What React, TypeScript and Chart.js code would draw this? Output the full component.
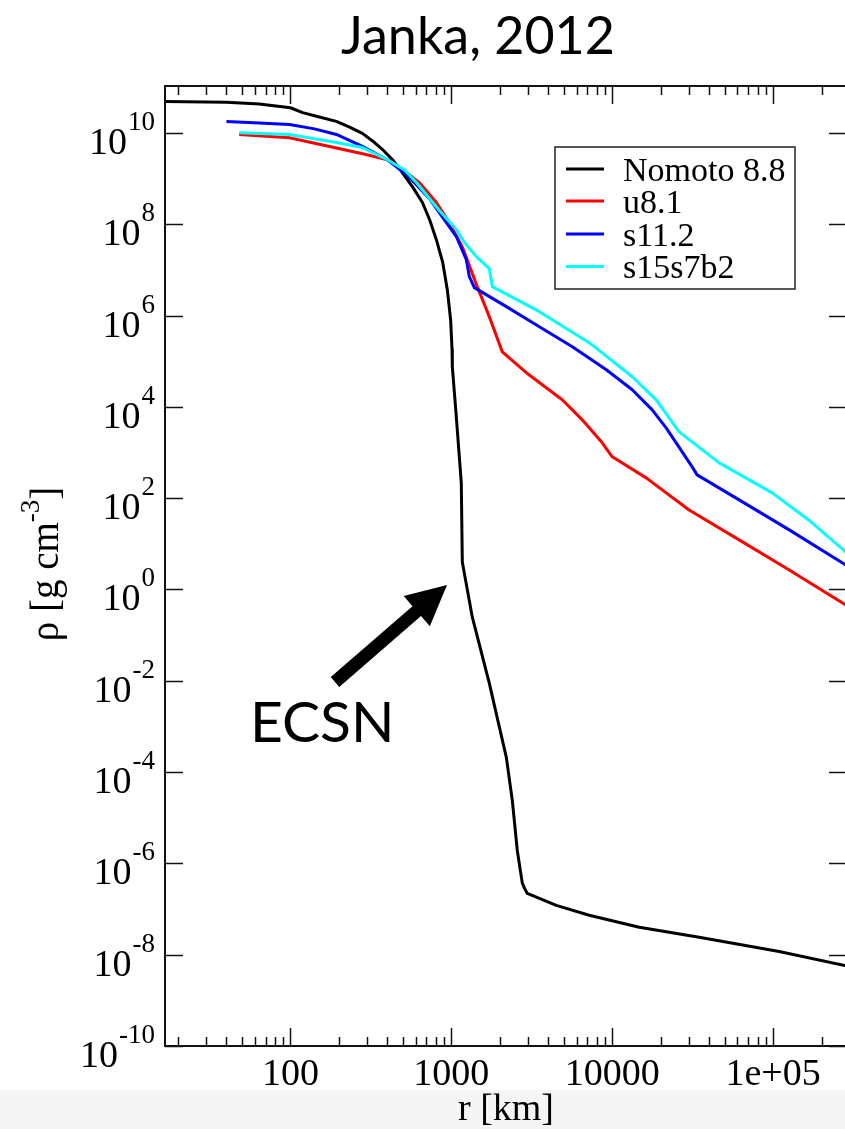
import React, { useEffect, useRef } from "react";
import { Chart, registerables } from "chart.js";

Chart.register(...registerables);

// ---- data (r in km, rho in g/cm^3) ----
const nomotoR = [16.5, 40, 64, 100, 119, 151, 193, 233, 280, 324, 372, 431, 496, 574, 661, 733, 807, 883, 944, 990, 1010, 1014, 1074, 1153, 1170, 1349, 1721, 2197, 2393, 2571, 2761, 2857, 2966, 4490, 7193, 14720, 34700, 109000, 297000];
const nomotoRho = [4.9e10, 4.7e10, 4.3e10, 3.57e10, 2.8e10, 2.24e10, 1.8e10, 1.35e10, 9.8e9, 6.7e9, 4.4e9, 2.6e9, 1.36e9, 6.6e8, 3.0e8, 1.26e8, 4.6e7, 1.49e7, 3.7e6, 8.0e5, 1.8e5, 7.6e4, 6.0e3, 217, 4.0, 0.25, 8.9e-3, 2.1e-4, 2.4e-5, 1.9e-6, 3.7e-7, 2.8e-7, 2.2e-7, 1.2e-7, 7.3e-8, 4.0e-8, 2.4e-8, 1.18e-8, 5.5e-9];

const u81R = [48, 98.6, 193, 281, 400, 512, 632, 807, 972, 1170, 1449, 1721, 2074, 2924, 4890, 6510, 8670, 10000, 16260, 30060, 61500, 126000, 297000];
const u81Rho = [9.3e9, 7.85e9, 4.7e9, 3.5e9, 2.6e9, 1.48e9, 8.2e8, 3.0e8, 1.09e8, 3.2e7, 4.3e6, 9.5e5, 1.6e5, 5.6e4, 1.43e4, 5.2e3, 1.63e3, 805, 279, 55, 12.2, 2.68, 0.41];

const s112R = [40, 64, 98.6, 141, 193, 280, 400, 512, 606, 733, 842, 975, 1074, 1239, 1294, 1390, 2197, 3524, 5650, 9190, 13320, 17720, 21640, 31400, 33700, 61500, 126000, 297000];
const s112Rho = [1.79e10, 1.66e10, 1.54e10, 1.23e10, 9.3e9, 5.1e9, 2.6e9, 1.33e9, 7.4e8, 3.6e8, 1.8e8, 8.7e7, 5.4e7, 1.68e7, 7.1e6, 4.1e6, 1.57e6, 5.7e5, 2.08e5, 6.5e4, 2.37e4, 8.6e3, 3.48e3, 486, 324, 92, 20.2, 3.1];

const s15R = [48, 98.6, 193, 280, 400, 512, 606, 842, 1074, 1205, 1430, 1721, 1798, 3524, 7193, 13320, 18750, 26060, 46200, 98700, 167000, 297000];
const s15Rho = [1.01e10, 9.3e9, 6.2e9, 4.8e9, 2.6e9, 1.55e9, 8.2e8, 2.0e8, 7.7e7, 4.0e7, 1.96e7, 1.07e7, 4.3e6, 1.22e6, 2.55e5, 4.57e4, 1.43e4, 2.84e3, 594, 131, 33, 5.7];

const seriesLabels = ["Nomoto 8.8", "u8.1", "s11.2", "s15s7b2"];
const seriesColors = ["#000000", "#ff0000", "#0000ff", "#00ffff"];

const xTickValues = [100, 1000, 10000, 100000];
const xTickLabels = ["100", "1000", "10000", "1e+05"];
const yTickExponents = [-10, -8, -6, -4, -2, 0, 2, 4, 6, 8, 10];

const X_MIN = 16.6;
const X_MAX = 2.88e5;
const Y_MIN = 1e-10;
const Y_MAX = 1.07e11;

const titleText = "Janka, 2012";
const annotationText = "ECSN";
const xTitle = "r [km]";

const SERIF = "'Liberation Serif', 'Times New Roman', serif";
const SANS = "Lato, 'Open Sans', sans-serif";

const toPoints = (r: number[], v: number[]) => r.map((x, i) => ({ x, y: v[i] }));

const decorPlugin = {
  id: "decor",
  afterDraw(chart: any) {
    const ctx: CanvasRenderingContext2D = chart.ctx;
    const { left, right, top, bottom } = chart.chartArea;
    const xs = chart.scales.x;
    const ys = chart.scales.y;
    ctx.save();

    // frame
    ctx.strokeStyle = "#111";
    ctx.lineWidth = 2;
    ctx.strokeRect(left, top, right - left, bottom - top);

    const seg = (x1: number, y1: number, x2: number, y2: number) => {
      ctx.beginPath();
      ctx.moveTo(x1, y1);
      ctx.lineTo(x2, y2);
      ctx.stroke();
    };

    // x ticks (inward, top and bottom)
    ctx.lineWidth = 1.5;
    for (let e = 1; e <= 5; e++) {
      for (let m = 1; m <= 9; m++) {
        const v = m * Math.pow(10, e);
        if (v < xs.min || v > xs.max) continue;
        const px = Math.round(xs.getPixelForValue(v)) + 0.5;
        const len = m === 1 ? 18 : 9;
        seg(px, bottom, px, bottom - len);
        seg(px, top, px, top + len);
      }
    }
    // y ticks (inward, left and right)
    for (const e of yTickExponents) {
      const py = Math.round(ys.getPixelForValue(Math.pow(10, e))) + 0.5;
      seg(left, py, left + 18, py);
      seg(right, py, right - 18, py);
    }

    // y tick labels 10^n
    ctx.fillStyle = "#000";
    ctx.textAlign = "right";
    ctx.textBaseline = "alphabetic";
    for (const e of yTickExponents) {
      const py = ys.getPixelForValue(Math.pow(10, e));
      const exp = String(e);
      ctx.font = `27px ${SERIF}`;
      const ew = ctx.measureText(exp).width;
      ctx.fillText(exp, 155, py - 3);
      ctx.font = `38px ${SERIF}`;
      ctx.fillText("10", 155 - ew - 1, py + 21);
    }

    // y axis title (rotated)
    ctx.save();
    ctx.translate(58, 564);
    ctx.rotate(-Math.PI / 2);
    ctx.textAlign = "left";
    const partA = "\u03c1 [g cm";
    const partB = "-3";
    const partC = "]";
    ctx.font = `39px ${SERIF}`;
    const wA = ctx.measureText(partA).width;
    const wC = ctx.measureText(partC).width;
    ctx.font = `27px ${SERIF}`;
    const wB = ctx.measureText(partB).width;
    const W = wA + wB + wC;
    let cx = -W / 2;
    ctx.font = `39px ${SERIF}`;
    ctx.fillText(partA, cx, 0);
    cx += wA;
    ctx.font = `27px ${SERIF}`;
    ctx.fillText(partB, cx, -19);
    cx += wB;
    ctx.font = `39px ${SERIF}`;
    ctx.fillText(partC, cx, 0);
    ctx.restore();

    // legend
    const lx0 = 555, ly0 = 147, lx1 = 795, ly1 = 289;
    ctx.fillStyle = "#fff";
    ctx.fillRect(lx0, ly0, lx1 - lx0, ly1 - ly0);
    ctx.strokeStyle = "#222";
    ctx.lineWidth = 1.5;
    ctx.strokeRect(lx0, ly0, lx1 - lx0, ly1 - ly0);
    const rowsY = [169, 201, 234, 266.5];
    chart.data.datasets.forEach((ds: any, i: number) => {
      const yy = rowsY[i];
      ctx.strokeStyle = ds.borderColor;
      ctx.lineWidth = 3;
      seg(566, yy, 604, yy);
      ctx.fillStyle = "#000";
      ctx.font = `34px ${SERIF}`;
      ctx.textAlign = "left";
      ctx.fillText(ds.label, 623, yy + 11.5);
    });

    // arrow
    const tail = { x: 335, y: 682 };
    const tip = { x: 447, y: 585 };
    const dx = tip.x - tail.x, dy = tip.y - tail.y;
    const L = Math.hypot(dx, dy);
    const ux = dx / L, uy = dy / L;
    const nx = -uy, ny = ux;
    const headLen = 40, headHalf = 20, shaftHalf = 6.5;
    const bx = tip.x - ux * headLen, by = tip.y - uy * headLen;
    ctx.fillStyle = "#000";
    ctx.beginPath();
    ctx.moveTo(tail.x + nx * shaftHalf, tail.y + ny * shaftHalf);
    ctx.lineTo(bx + nx * shaftHalf, by + ny * shaftHalf);
    ctx.lineTo(bx + nx * headHalf, by + ny * headHalf);
    ctx.lineTo(tip.x, tip.y);
    ctx.lineTo(bx - nx * headHalf, by - ny * headHalf);
    ctx.lineTo(bx - nx * shaftHalf, by - ny * shaftHalf);
    ctx.lineTo(tail.x - nx * shaftHalf, tail.y - ny * shaftHalf);
    ctx.closePath();
    ctx.fill();

    // annotation text
    ctx.font = `57px ${SANS}`;
    ctx.textAlign = "left";
    ctx.fillText(annotationText, 250, 742);

    // title
    ctx.font = `52px ${SANS}`;
    ctx.textAlign = "center";
    ctx.fillText(titleText, 478, 54);

    ctx.restore();
  },
};

export default function App() {
  const ref = useRef<HTMLCanvasElement>(null);
  useEffect(() => {
    if (!ref.current) return;
    const rs = [nomotoR, u81R, s112R, s15R];
    const vs = [nomotoRho, u81Rho, s112Rho, s15Rho];
    const chart = new Chart(ref.current, {
      type: "line",
      data: {
        datasets: seriesLabels.map((label, i) => ({
          label,
          data: toPoints(rs[i], vs[i]),
          borderColor: seriesColors[i],
          backgroundColor: seriesColors[i],
          borderWidth: 3,
          pointRadius: 0,
          tension: 0,
          fill: false,
          borderJoinStyle: "round" as const,
          order: 3 - i,
        })),
      },
      options: {
        responsive: false,
        animation: false,
        devicePixelRatio: 1,
        layout: { padding: { top: 86, right: 13, left: 0, bottom: 0 } },
        plugins: { legend: { display: false }, tooltip: { enabled: false }, title: { display: false } },
        scales: {
          x: {
            type: "logarithmic",
            min: X_MIN,
            max: X_MAX,
            grid: { display: false, drawTicks: false },
            border: { display: false },
            afterBuildTicks: (scale: any) => {
              scale.ticks = xTickValues.map((v) => ({ value: v }));
            },
            afterFit: (scale: any) => {
              scale.height = 83;
            },
            ticks: {
              autoSkip: false,
              maxRotation: 0,
              minRotation: 0,
              padding: 6,
              color: "#000",
              font: { family: SERIF, size: 38 },
              callback: (value: any) => {
                const idx = xTickValues.findIndex((t) => Math.abs(Math.log10(t) - Math.log10(Number(value))) < 1e-6);
                return idx >= 0 ? xTickLabels[idx] : "";
              },
            },
            title: {
              display: true,
              text: xTitle,
              color: "#000",
              font: { family: SERIF, size: 38, lineHeight: 1 },
              padding: { top: 0, bottom: 0 },
            },
          },
          y: {
            type: "logarithmic",
            min: Y_MIN,
            max: Y_MAX,
            grid: { display: false, drawTicks: false },
            border: { display: false },
            ticks: { display: false },
            afterFit: (scale: any) => {
              scale.width = 165;
            },
          },
        },
      },
      plugins: [decorPlugin],
    } as any);
    return () => chart.destroy();
  }, []);

  return (
    <div style={{ position: "fixed", left: 0, top: 0, width: 845, height: 1129, overflow: "hidden", background: "#fff" }}>
      <div style={{ position: "absolute", left: 0, top: 1090, width: 845, height: 39, background: "#f5f5f5" }} />
      <canvas ref={ref} width={860} height={1129} style={{ position: "absolute", left: 0, top: 0, width: 860, height: 1129 }} />
    </div>
  );
}
